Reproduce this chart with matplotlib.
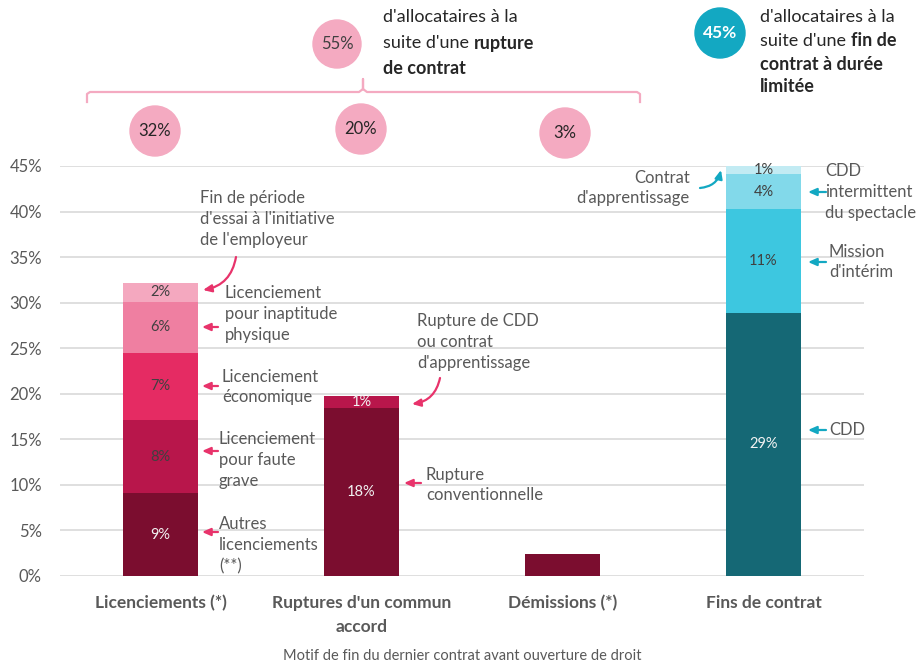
import matplotlib.pyplot as plt
from matplotlib.patches import Circle
import numpy as np

plt.rcParams['font.family'] = ['Lato', 'DejaVu Sans']

categories = ['Licenciements (*)', "Ruptures d'un commun\naccord", 'Démissions (*)', 'Fins de contrat']

# segments bottom -> top, in % of allocataires
licenciements = [9.1, 8.0, 7.4, 5.6, 2.1]
licenciements_labels = ['9%', '8%', '7%', '6%', '2%']
ruptures = [18.4, 1.4]
ruptures_labels = ['18%', '1%']
demissions = [2.4]
demissions_labels = ['']
fins_contrat = [28.9, 11.4, 3.8, 0.9]
fins_labels = ['29%', '11%', '4%', '1%']

totals = ['32%', '20%', '3%']
total_rupture = '55%'
total_fins = '45%'

segments = [licenciements, ruptures, demissions, fins_contrat]
seg_labels = [licenciements_labels, ruptures_labels, demissions_labels, fins_labels]
seg_colors = [['#7b0d2f', '#b8164b', '#e52b63', '#ef7fa1', '#f4a8bf'],
              ['#7b0d2f', '#b8164b'],
              ['#7b0d2f'],
              ['#156875', '#3dc7e0', '#82d9ea', '#c2ebf3']]
dark = ['#7b0d2f', '#156875']

pink = '#e8336b'
teal = '#13a8c2'
grey = '#595959'

fig = plt.figure(figsize=(9.2, 6.63), dpi=100)
ax = fig.add_axes([60/920, 1-576/663, (864-60)/920, (576-166)/663])

x = np.arange(len(categories))
for i in range(len(categories)):
    bottom = 0
    for h, lab, c in zip(segments[i], seg_labels[i], seg_colors[i]):
        ax.bar(x[i], h, bottom=bottom, width=0.37, color=c, zorder=3, clip_on=False)
        if lab:
            tc = '#f2f2f2' if (c in dark or (i == 1 and lab == '1%')) else '#404040'
            ax.text(x[i], bottom + h/2, lab, ha='center', va='center', fontsize=10.5, color=tc, zorder=4)
        bottom += h

ax.set_xlim(-0.5, 3.5)
ax.set_ylim(0, 45)
ax.set_yticks(np.arange(0, 46, 5))
ax.set_yticklabels([f'{v}%' for v in range(0, 46, 5)])
ax.set_xticks(x)
ax.set_xticklabels(categories, fontweight='bold', fontsize=12.5, color=grey, linespacing=1.6)
ax.tick_params(axis='y', length=0, pad=13, labelsize=12, labelcolor=grey)
ax.tick_params(axis='x', length=0, pad=14)
ax.yaxis.grid(True, color='#d9d9d9', linewidth=1.2, zorder=0)
for s in ax.spines.values():
    s.set_visible(False)
ax.set_xlabel('Motif de fin du dernier contrat avant ouverture de droit', fontsize=10.5, color=grey, labelpad=10)

# overlay in pixel coords for annotations
ov = fig.add_axes([0, 0, 1, 1], zorder=5)
ov.set_xlim(0, 920)
ov.set_ylim(663, 0)
ov.axis('off')

txt = dict(fontsize=12, color=grey, linespacing=1.38, va='center')
notes = [("Fin de période\nd'essai à l'initiative\nde l'employeur", 200, 219, 'left'),
         ("Licenciement\npour inaptitude\nphysique", 225, 314, 'left'),
         ("Licenciement\néconomique", 222, 387, 'left'),
         ("Licenciement\npour faute\ngrave", 219, 460, 'left'),
         ("Autres\nlicenciements\n(**)", 219, 545, 'left'),
         ("Rupture de CDD\nou contrat\nd'apprentissage", 417, 342, 'left'),
         ("Rupture\nconventionnelle", 426, 485, 'left'),
         ("Contrat\nd'apprentissage", 690, 188, 'right'),
         ("CDD\nintermittent\ndu spectacle", 825, 192, 'left'),
         ("Mission\nd'intérim", 829, 262, 'left'),
         ("CDD", 829, 430, 'left')]
for t, px, py, ha in notes:
    ov.text(px, py, t, ha=ha, **txt)

def arrow(x0, y0, x1, y1, col, rad=0.0):
    ov.annotate('', xy=(x1, y1), xytext=(x0, y0),
                arrowprops=dict(arrowstyle='-|>,head_length=0.5,head_width=0.22', color=col, lw=1.6,
                                shrinkA=0, shrinkB=0, connectionstyle=f'arc3,rad={rad}'))

arrow(236, 257, 203, 290, pink, -0.35)
for yy in [327, 386, 451, 532]:
    arrow(218, yy, 202, yy, pink)
arrow(440, 378, 412, 404, pink, -0.35)
arrow(421, 483, 404, 483, pink)
arrow(700, 188, 721, 170, teal, 0.35)
for yy in [192, 262, 430]:
    arrow(826, yy, 808, yy, teal)

# circles with totals
circ_pink = '#f4aac1'
for cx, cy, lab in zip([155, 361, 565], [131, 129, 133], totals):
    ov.add_patch(Circle((cx, cy), 25, color=circ_pink, zorder=2))
    ov.text(cx, cy, lab, ha='center', va='center', fontsize=12, color='#262626', zorder=3)
ov.add_patch(Circle((337, 44), 24, color=circ_pink))
ov.text(337, 44, total_rupture, ha='center', va='center', fontsize=12, color='#404040')
ov.add_patch(Circle((720, 33), 25, color=teal))
ov.text(720, 33, total_fins, ha='center', va='center', fontsize=12.5, color='white', fontweight='bold')

# bracket
ov.plot([87, 87, 90, 359, 363, 363, 363, 367, 637, 640, 640],
        [102, 94, 92, 92, 89, 79, 89, 92, 92, 94, 102], color=circ_pink, lw=1.6, solid_joinstyle='round')

# mixed-weight top texts
r = fig.canvas.get_renderer()
def mixed(px, py, parts, size=13):
    for seg, w in parts:
        t = ov.text(px, py, seg, fontsize=size, fontweight=w, color='#262626', va='center', ha='left')
        bb = t.get_window_extent(r)
        px = ov.transData.inverted().transform((bb.x1, bb.y0))[0]

mixed(383, 17, [("d'allocataires à la", 'normal')])
mixed(383, 43, [("suite d'une ", 'normal'), ('rupture', 'bold')])
mixed(383, 68, [('de contrat', 'bold')])
mixed(760, 17, [("d'allocataires à la", 'normal')])
mixed(760, 41, [("suite d'une ", 'normal'), ('fin de', 'bold')])
mixed(760, 64, [('contrat à durée', 'bold')])
mixed(760, 87, [('limitée', 'bold')])

fig.savefig('out.png', dpi=100)
